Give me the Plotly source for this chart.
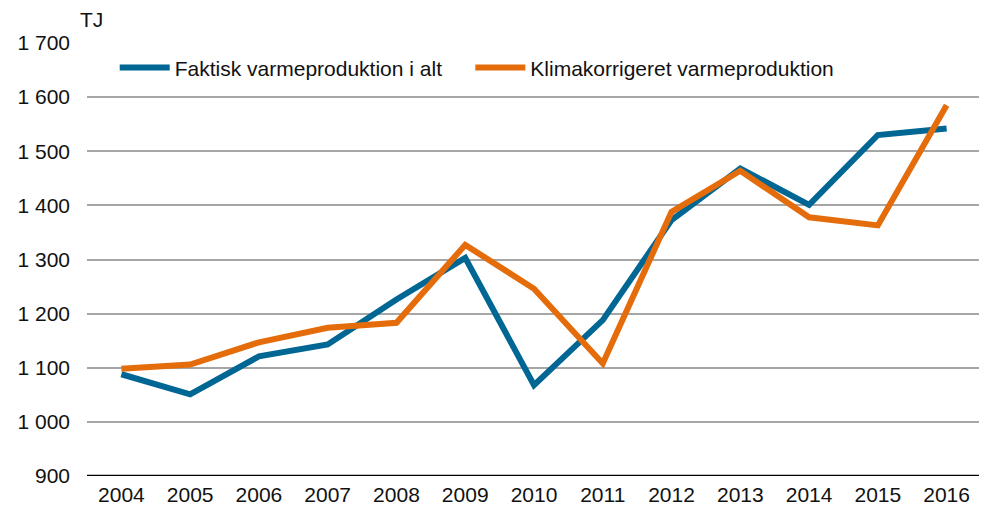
import plotly.graph_objects as go

years = ["2004", "2005", "2006", "2007", "2008", "2009", "2010",
         "2011", "2012", "2013", "2014", "2015", "2016"]
faktisk = [1088, 1051, 1121, 1143, 1226, 1303, 1068, 1188, 1373, 1468, 1401, 1530, 1542]
klima = [1098, 1106, 1147, 1174, 1183, 1327, 1246, 1108, 1388, 1464, 1378, 1363, 1585]
yticks = [900, 1000, 1100, 1200, 1300, 1400, 1500, 1600, 1700]
yticklabels = ["900", "1 000", "1 100", "1 200", "1 300", "1 400", "1 500", "1 600", "1 700"]
names = ["Faktisk varmeproduktion i alt", "Klimakorrigeret varmeproduktion"]

BLUE = "#006694"
ORANGE = "#E46C0A"
FONT = "Liberation Sans, Arial, sans-serif"
FS = 21
PAD = "\u00a0" * 4  # extra spacing between legend entries

fig = go.Figure()
fig.add_trace(go.Scatter(x=years, y=faktisk, mode="lines", name=names[0] + PAD,
                         line=dict(color=BLUE, width=6)))
fig.add_trace(go.Scatter(x=years, y=klima, mode="lines", name=names[1],
                         line=dict(color=ORANGE, width=6)))

fig.update_layout(
    width=987, height=512,
    margin=dict(l=79, r=14, t=35, b=44, autoexpand=False),
    paper_bgcolor="white", plot_bgcolor="white",
    font=dict(family=FONT, size=FS, color="#111111"),
    showlegend=True,
    legend=dict(orientation="h", x=0.031, y=0.99, xanchor="left", yanchor="top",
                bgcolor="rgba(0,0,0,0)", font=dict(size=FS, family=FONT),
                itemwidth=50, tracegroupgap=0),
    xaxis=dict(type="category", range=[-0.5, 12.5], showgrid=False, ticks="", showline=False,
               tickfont=dict(size=FS), zeroline=False, automargin=False, ticklabelstandoff=4),
    yaxis=dict(range=[900, 1700], tickvals=yticks, ticktext=yticklabels,
               showgrid=True, gridcolor="#A6A6A6", gridwidth=1.5,
               zeroline=False, showline=False, ticks="", ticklabelstandoff=16,
               tickfont=dict(size=FS), automargin=False),
    shapes=[dict(type="line", xref="paper", yref="y", x0=0, x1=1, y0=900, y1=900,
                 line=dict(color="black", width=2.5))],
    annotations=[dict(text="TJ", xref="paper", yref="paper", x=-0.01, y=1.0, yshift=10,
                      xanchor="left", yanchor="bottom", showarrow=False,
                      font=dict(size=FS, family=FONT))],
)

fig.write_html("out.html")
